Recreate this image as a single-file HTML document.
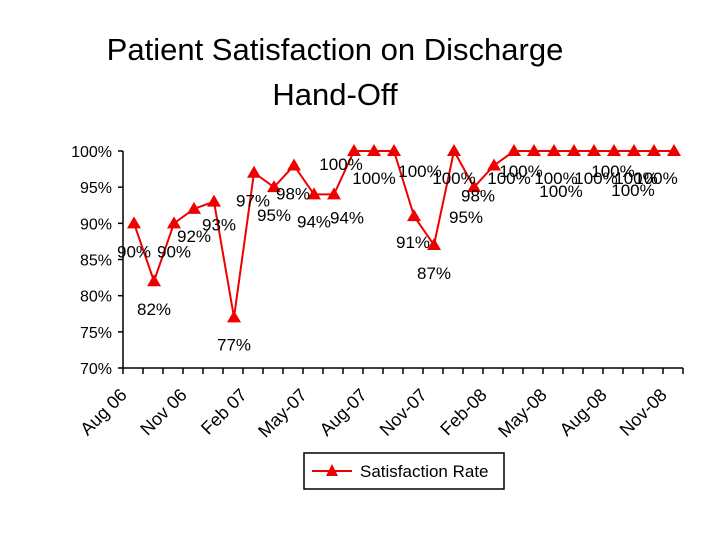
<!DOCTYPE html>
<html><head><meta charset="utf-8"><style>
body{margin:0;background:#fff;width:720px;height:540px;overflow:hidden;font-family:"Liberation Sans",Arial,sans-serif}
svg{position:absolute;left:0;top:0}
</style></head><body>
<svg width="720" height="540">
<text x="335" y="60" font-size="31" text-anchor="middle">Patient Satisfaction on Discharge</text>
<text x="335" y="105" font-size="31" text-anchor="middle">Hand-Off</text>
<g id="plot"></g>
<g>
<rect x="304" y="453" width="200" height="36" fill="#fff" stroke="#000" stroke-width="1.5"/>
<line x1="312" y1="471" x2="352" y2="471" stroke="#e00" stroke-width="2"/>
<polygon points="332,464 338,476 326,476" fill="#e00"/>
<text x="360" y="477" font-size="17">Satisfaction Rate</text>
</g>
</svg>
<script>
const categories=["Aug 06","Sep 06","Oct 06","Nov 06","Dec 06","Jan 07","Feb 07","Mar 07","Apr 07","May-07","Jun 07","Jul 07","Aug-07","Sep 07","Oct 07","Nov-07","Dec 07","Jan 08","Feb-08","Mar 08","Apr 08","May-08","Jun 08","Jul 08","Aug-08","Sep 08","Oct 08","Nov-08"];
const values=[90,82,90,92,93,77,97,95,98,94,94,100,100,100,91,87,100,95,98,100,100,100,100,100,100,100,100,100];
const yTicks=[70,75,80,85,90,95,100];
const tickLabelEvery=3;
const labelDx=[0,0,0,0,5,0,-1,0,-1,0,13,-13,0,26,-1,0,0,-8,-16,7,-25,2,-13,2,-1,2,-21,-18];
const labelDy=[28,28,28,27,23,27,28,28,28,27,23,13,27,20,26,28,27,30,30,20,27,27,40,27,20,27,39,27];
const NS="http://www.w3.org/2000/svg";
const g=document.getElementById('plot');
const X0=123,X1=683,Y0=368,Y1=151,yMin=70,yMax=100;
const step=(X1-X0)/categories.length;
const xs=i=>X0+step*(i+0.5)+1;
const ys=v=>Y0-(v-yMin)/(yMax-yMin)*(Y0-Y1);
function mk(t,a){const e=document.createElementNS(NS,t);for(const k in a)e.setAttribute(k,a[k]);g.appendChild(e);return e;}
let e=mk('line',{x1:X0,y1:Y1,x2:X0,y2:Y0,stroke:'#000','stroke-width':1.5});


e=mk('line',{x1:X0,y1:Y0,x2:X1,y2:Y0,stroke:'#000','stroke-width':1.5});


yTicks.forEach(t=>{
 mk('line',{x1:X0-5,y1:ys(t),x2:X0,y2:ys(t),stroke:'#000','stroke-width':1.5});
 const tx=mk('text',{x:X0-11,y:ys(t)+6,'font-size':16,'text-anchor':'end'});
 tx.textContent=t+'%';
 
 
});
for(let i=0;i<=categories.length;i++)mk('line',{x1:X0+step*i,y1:Y0,x2:X0+step*i,y2:Y0+6,stroke:'#000','stroke-width':1.5});
categories.forEach((c,i)=>{
 if(i%tickLabelEvery)return;
 const x=xs(i)-6,y=Y0+28;
 const tx=mk('text',{x:x,y:y,'font-size':18,'text-anchor':'end',transform:`rotate(-45 ${x} ${y})`});
 tx.textContent=c;
 
 
});
const line=mk('polyline',{points:values.map((v,i)=>xs(i)+','+ys(v)).join(' '),fill:'none',stroke:'#e00','stroke-width':2});


values.forEach((v,i)=>{
 const x=xs(i),y=ys(v);
 const p=mk('polygon',{points:`${x},${y-7} ${x+7},${y+5} ${x-7},${y+5}`,fill:'#e00'});
 
 
});
values.forEach((v,i)=>{
 const t=mk('text',{x:xs(i)+labelDx[i],y:ys(v)+labelDy[i]+6,'font-size':17,'text-anchor':'middle'});
 t.textContent=v+'%';
 
 
});
</script>
</body></html>
